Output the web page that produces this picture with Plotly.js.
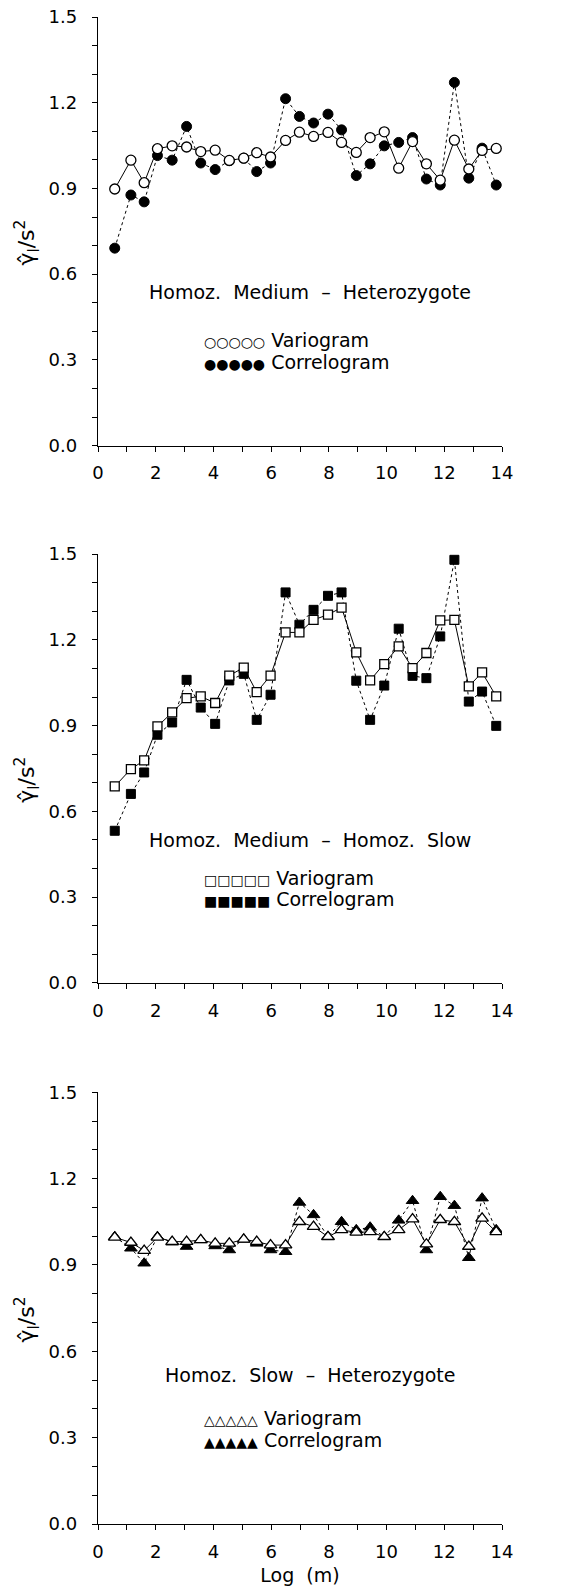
<!DOCTYPE html>
<html>
<head>
<meta charset="utf-8">
<script src="https://cdn.plot.ly/plotly-3.0.1.min.js"></script>
<style>html,body{margin:0;padding:0;background:#fff;}#chart{width:563px;height:1592px;}</style>
</head>
<body>
<div id="chart"></div>
<script>
// Lag distance classes (m)
var lags = [0.58, 1.14, 1.60, 2.06, 2.57, 3.07, 3.56, 4.06, 4.55, 5.05, 5.50, 5.98, 6.50, 6.98,
            7.47, 7.97, 8.44, 8.95, 9.43, 9.92, 10.42, 10.90, 11.38, 11.86, 12.35, 12.85, 13.31, 13.80];

// Panel 1: Homoz. Medium - Heterozygote
var medHetVariogram = [0.898, 0.999, 0.920, 1.039, 1.049, 1.045, 1.029, 1.034, 0.998, 1.006, 1.025, 1.010, 1.068, 1.097,
                       1.082, 1.096, 1.061, 1.026, 1.078, 1.098, 0.971, 1.064, 0.986, 0.929, 1.069, 0.968, 1.033, 1.040];
var medHetCorrelogram = [0.691, 0.877, 0.853, 1.015, 0.999, 1.117, 0.989, 0.966, 0.997, 1.006, 0.959, 0.989, 1.214, 1.152,
                         1.129, 1.160, 1.105, 0.945, 0.986, 1.049, 1.061, 1.078, 0.933, 0.912, 1.271, 0.936, 1.041, 0.912];

// Panel 2: Homoz. Medium - Homoz. Slow
var medSlowVariogram = [0.687, 0.748, 0.778, 0.897, 0.946, 0.996, 1.002, 0.979, 1.075, 1.103, 1.017, 1.075, 1.226, 1.226,
                        1.270, 1.288, 1.313, 1.156, 1.058, 1.115, 1.177, 1.101, 1.154, 1.268, 1.270, 1.037, 1.086, 1.002];
var medSlowCorrelogram = [0.532, 0.661, 0.736, 0.868, 0.911, 1.060, 0.963, 0.906, 1.058, 1.081, 0.920, 1.008, 1.366, 1.253,
                          1.305, 1.354, 1.366, 1.057, 0.920, 1.040, 1.239, 1.074, 1.066, 1.212, 1.480, 0.984, 1.019, 0.899];

// Panel 3: Homoz. Slow - Heterozygote
var slowHetVariogram = [0.996, 0.978, 0.950, 0.996, 0.981, 0.981, 0.987, 0.975, 0.975, 0.989, 0.981, 0.969, 0.969, 1.050,
                        1.033, 0.998, 1.022, 1.013, 1.015, 0.998, 1.022, 1.059, 0.972, 1.057, 1.050, 0.964, 1.062, 1.015];
var slowHetCorrelogram = [0.998, 0.958, 0.906, 0.998, 0.979, 0.964, 0.987, 0.966, 0.952, 0.989, 0.975, 0.952, 0.946, 1.117,
                          1.074, 0.998, 1.050, 1.022, 1.031, 0.998, 1.055, 1.123, 0.952, 1.137, 1.106, 0.925, 1.132, 1.022];

var panelTitles = ["Homoz.  Medium  \u2013  Heterozygote", "Homoz.  Medium  \u2013  Homoz.  Slow", "Homoz.  Slow  \u2013  Heterozygote"];
var seriesNames = ["Variogram", "Correlogram"];
var yTitle = "\u03B3\u0302<sub>l</sub>/s<sup>2</sup>";
var xTitle = "Log  (m)";
var xTickVals = [0, 2, 4, 6, 8, 10, 12, 14];
var yTickVals = [0.0, 0.3, 0.6, 0.9, 1.2, 1.5];
var yTickText = ["0.0", "0.3", "0.6", "0.9", "1.2", "1.5"];

var FONT = "DejaVu Sans, Arial, sans-serif";
var panels = [
  {v: medHetVariogram,  c: medHetCorrelogram,  sym: "circle",       vs: "\u25CB", cs: "\u25CF", size: 10, ty: 0.538},
  {v: medSlowVariogram, c: medSlowCorrelogram, sym: "square",       vs: "\u25A1", cs: "\u25A0", size: 9,  ty: 0.500},
  {v: slowHetVariogram, c: slowHetCorrelogram, sym: "triangle-up",  vs: "\u25B3", cs: "\u25B2", size: 11, ty: 0.518}
];
var domains = [[0.7156, 1.0], [0.3591, 0.6436], [0.0, 0.2865]];

var data = [];
var annotations = [];
var layout = {
  width: 563, height: 1592,
  margin: {l: 98, r: 61, t: 17, b: 68},
  paper_bgcolor: "#fff", plot_bgcolor: "#fff",
  showlegend: false,
  font: {family: FONT, size: 18, color: "#000"}
};

panels.forEach(function (p, i) {
  var n = i + 1;
  var xa = "x" + n, ya = "y" + n;
  var xk = "xaxis" + n, yk = "yaxis" + n;
  data.push({
    x: lags, y: p.c, xaxis: xa, yaxis: ya, type: "scatter", mode: "lines+markers", name: seriesNames[1],
    line: {color: "#000", width: 1, dash: "3px,3px"},
    marker: {symbol: p.sym, size: p.size, color: "#000", line: {color: "#000", width: 1}}
  });
  data.push({
    x: lags, y: p.v, xaxis: xa, yaxis: ya, type: "scatter", mode: "lines+markers", name: seriesNames[0],
    line: {color: "#000", width: 1},
    marker: {symbol: p.sym, size: p.size, color: "#fff", line: {color: "#000", width: 1.3}}
  });
  layout[xk] = {
    domain: [0, 1], anchor: ya, range: [0, 14], showgrid: false, zeroline: false,
    showline: true, linecolor: "#000", linewidth: 1.3,
    tickmode: "array", tickvals: xTickVals, ticks: "outside", ticklen: 5, tickwidth: 1, tickcolor: "#000",
    minor: {dtick: 1, ticks: "outside", ticklen: 5, tickwidth: 1, tickcolor: "#000"},
    tickfont: {family: FONT, size: 18, color: "#000"},
    ticklabelstandoff: 6
  };
  if (n === 3) {
    layout[xk].title = {text: xTitle, font: {family: FONT, size: 19, color: "#000"}, standoff: 7};
  }
  layout[yk] = {
    domain: domains[i], anchor: xa, range: [0, 1.5], showgrid: false, zeroline: false,
    showline: true, linecolor: "#000", linewidth: 1.3,
    tickmode: "array", tickvals: yTickVals, ticktext: yTickText, ticks: "outside", ticklen: 5, tickwidth: 1, tickcolor: "#000",
    minor: {dtick: 0.1, ticks: "outside", ticklen: 5, tickwidth: 1, tickcolor: "#000"},
    tickfont: {family: FONT, size: 18, color: "#000"},
    ticklabelstandoff: 11
  };
  // y-axis title, placed as a rotated annotation slightly below the panel centre (as in the reference)
  annotations.push({
    xref: "paper", yref: ya, x: -0.176, y: 0.71, text: yTitle, textangle: -90, showarrow: false,
    xanchor: "center", yanchor: "middle", font: {family: FONT, size: 22, color: "#000"}
  });
  annotations.push({
    xref: xa, yref: ya, x: 7.35, y: p.ty, text: panelTitles[i], showarrow: false,
    xanchor: "center", yanchor: "middle", font: {family: FONT, size: 19, color: "#000"}
  });
  annotations.push({
    xref: xa, yref: ya, x: 3.62, y: 0.368,
    text: "<span style='font-size:14px'>" + p.vs + p.vs + p.vs + p.vs + p.vs + "</span> " + seriesNames[0],
    showarrow: false, xanchor: "left", yanchor: "middle", font: {family: FONT, size: 19, color: "#000"}
  });
  annotations.push({
    xref: xa, yref: ya, x: 3.62, y: 0.293,
    text: "<span style='font-size:14px'>" + p.cs + p.cs + p.cs + p.cs + p.cs + "</span> " + seriesNames[1],
    showarrow: false, xanchor: "left", yanchor: "middle", font: {family: FONT, size: 19, color: "#000"}
  });
});
layout.annotations = annotations;

Plotly.newPlot("chart", data, layout, {staticPlot: true, displayModeBar: false});
</script>
</body>
</html>
